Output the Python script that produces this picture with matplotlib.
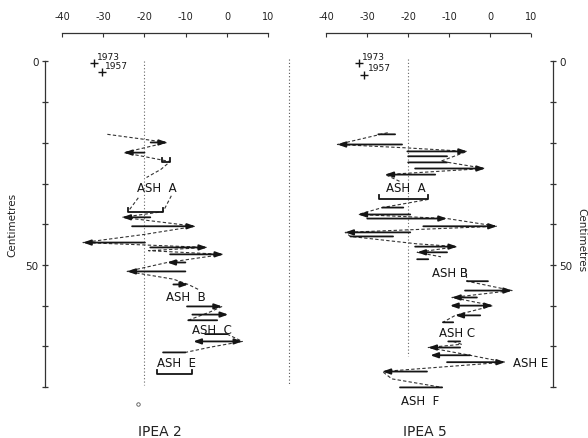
import numpy as np
import matplotlib.pyplot as plt

nan = np.nan

# ---- IPEA 2 : horizontal shifts (depth in cm, start value, end value, head type)
# head: 'r' arrow at end, 'b' both ends, 'n' plain line, 'k' bracket
L_depth = [19.9, 22.4, 24.6, 36.9, 38.3, 40.5, 44.5, 45.7, 47.4, 49.4,
           51.6, 54.8, 60.2, 62.2, 63.6, 67.0, 68.8, 71.5, 76.7]
L_from = [-18.5, -20.0, -15.7, -24.0, -18.6, -23.0, -19.9, -18.6, -13.8, -10.1,
          -10.1, -13.0, -9.7, -8.4, -9.4, -5.3, -8.2, -15.5, -17.0]
L_to = [-14.5, -25.0, -13.8, -15.5, -25.4, -7.7, -34.9, -4.8, -0.9, -14.5,
        -24.2, -9.4, -1.2, 0.3, -2.4, 0.0, 3.7, -10.1, -8.4]
L_head = ['r', 'r', 'k', 'k', 'r', 'r', 'r', 'r', 'r', 'r',
          'r', 'r', 'r', 'r', 'n', 'n', 'b', 'n', 'k']

# dashed connecting trace (NaN = break)
LZ_x = [-29, -14.5, -25, -13.8, -16, -19.5, nan, -21.5, -24, nan,
        -13.5, -15.5, -25.4, -7.7, -20, -34.9, -4.8, -19, -0.9, -14.5,
        -24.2, -13, -9.4, -7, nan, -1.2, -4, -9.4, nan, 0, 3.7, -4, -10.1]
LZ_d = [17.9, 19.9, 22.4, 24.6, 26.5, 28.5, nan, 33.5, 36.9, nan,
        33.0, 36.9, 38.3, 40.5, 42.5, 44.5, 45.7, 46.5, 47.4, 49.4,
        51.6, 53.5, 54.8, 56.0, nan, 60.2, 61.5, 63.6, nan, 67.0, 68.8, 70.2, 71.5]

L_ash = ['ASH  A', 'ASH  B', 'ASH  C', 'ASH  E']
L_ash_x = [-17.0, -10.0, -3.6, -12.3]
L_ash_d = [31.0, 57.7, 65.8, 74.0]

# ---- IPEA 5
R_depth = [17.9, 20.4, 22.1, 23.3, 24.8, 26.3, 27.8, 33.9, 35.9, 37.6,
           38.6, 40.5, 42.0, 43.0, 45.5, 46.9, 48.6, 54.0, 56.3, 58.0,
           60.0, 62.4, 64.1, 68.8, 70.3, 72.2, 73.9, 76.2, 80.1]
R_from = [-27.3, -21.5, -20.2, -20.0, -20.0, -18.3, -13.4, -27.1, -26.3, -19.5,
          -30.0, -16.3, -19.5, -34.1, -18.3, -10.5, -17.8, -5.6, -6.1, -3.2,
          -9.8, -2.4, -11.5, -10.2, -7.3, -4.9, -10.5, -15.4, -22.0]
R_to = [-23.2, -37.3, -5.6, -10.5, -10.5, -1.2, -25.6, -15.1, -21.2, -32.2,
        -10.5, 1.7, -35.4, -23.7, -8.0, -17.8, -15.1, -0.5, 5.4, -9.3,
        0.7, -8.5, -9.0, -7.3, -15.1, -14.6, 3.7, -26.3, -11.7]
R_head = ['n', 'r', 'r', 'n', 'n', 'r', 'r', 'k', 'n', 'r',
          'r', 'r', 'r', 'n', 'r', 'r', 'n', 'n', 'r', 'r',
          'b', 'r', 'n', 'n', 'r', 'r', 'r', 'r', 'n']

RZ_x = [-25, -37.3, -21, -5.6, -12, -1.2, -25.6, -22, nan,
        -15.1, -26.3, -32.2, -10.5, 1.7, -35.4, -34.1, -18, -8, -17.8, -12, nan,
        -6, -5.6, 5.4, -9.3, 0.7, -8.5, -11.5, nan,
        -9, -7, -15.1, -4.9, 3.7, -26.3, -24, -11.7]
RZ_d = [17.5, 20.4, 21.2, 22.1, 24.5, 26.3, 27.8, 29.5, nan,
        33.9, 35.9, 37.6, 38.6, 40.5, 42.0, 43.0, 44.8, 45.5, 46.9, 48.0, nan,
        51.0, 54.0, 56.3, 58.0, 60.0, 62.4, 64.1, nan,
        68.8, 69.5, 70.3, 72.2, 73.9, 76.2, 78.0, 80.1]

R_ash = ['ASH  A', 'ASH B', 'ASH C', 'ASH  F']
R_ash_x = [-20.7, -9.8, -8.0, -17.0]
R_ash_d = [31.0, 51.8, 66.6, 83.2]

# dated horizons
yr_labels = ['1973', '1957']
L_yr_x = [-32.2, -30.3]
L_yr_d = [0.4, 2.6]
R_yr_x = [-32.0, -30.7]
R_yr_d = [0.4, 3.3]

x_ticks = [-40, -30, -20, -10, 0, 10]
x_ticklabels = ['-40', '-30', '-20', '-10', '0', '10']
d_ticks = [0, 10, 20, 30, 40, 50, 60, 70, 80]
d_ticklabels = ['0', '', '', '', '', '50', '', '', '']

INK = '#151515'


def draw_shifts(ax, depth, start, end, head):
    for d, a, b, h in zip(depth, start, end, head):
        if h == 'k':
            # bracket: flat bar with short upturned ends
            ax.plot([a, a, b, b], [d - 1.0, d, d, d - 1.0], color=INK,
                    lw=1.3, clip_on=False)
            continue
        if h == 'r':
            style = '-|>,head_length=0.45,head_width=0.16'
        elif h == 'b':
            style = '<|-|>,head_length=0.45,head_width=0.16'
        else:
            style = '-'
        ax.annotate('', xy=(b, d), xytext=(a, d),
                    arrowprops=dict(arrowstyle=style, color=INK, lw=1.3,
                                    shrinkA=0, shrinkB=0),
                    annotation_clip=False)


def setup_panel(ax, xlim, side):
    ax.set_xlim(*xlim)
    ax.set_ylim(80, -7)
    ax.set_facecolor('none')
    for s in ['top', 'bottom', 'left', 'right']:
        ax.spines[s].set_visible(False)
    ax.spines['top'].set_visible(True)
    ax.spines['top'].set_bounds(-40, 10)
    ax.spines['top'].set_linestyle((0, (3, 1)))
    ax.spines['top'].set_linewidth(0.9)
    ax.spines['top'].set_color('#333333')
    ax.xaxis.tick_top()
    ax.set_xticks(x_ticks)
    ax.set_xticklabels(x_ticklabels, fontsize=7, color='#222222')
    ax.tick_params(axis='x', direction='in', length=3, width=0.8, pad=9,
                   color='#333333')

    ax.spines[side].set_visible(True)
    ax.spines[side].set_bounds(0, 80)
    ax.spines[side].set_linestyle((0, (3, 1)))
    ax.spines[side].set_linewidth(0.9)
    ax.spines[side].set_color('#333333')
    if side == 'right':
        ax.yaxis.tick_right()
    else:
        ax.yaxis.tick_left()
    ax.set_yticks(d_ticks)
    ax.set_yticklabels(d_ticklabels, fontsize=7.5, color='#222222')
    ax.tick_params(axis='y', direction='inout', length=5, width=0.9, pad=2,
                   color='#333333')


fig = plt.figure(figsize=(5.88, 4.39), dpi=100)
axL = fig.add_axes([45 / 588, 1 - 388 / 439, 244 / 588, 354 / 439])
axR = fig.add_axes([310 / 588, 1 - 388 / 439, 243 / 588, 354 / 439])

setup_panel(axL, (-44.1, 15.0), 'left')
setup_panel(axR, (-44.0, 15.4), 'right')

# reference line at -20 and the panel divider
axL.plot([-20, -20], [0, 79.5], ls=(0, (1, 2)), color='#666666', lw=0.8)
axR.plot([-20, -20], [-0.5, 72.5], ls=(0, (1, 2)), color='#666666', lw=0.8)
axL.plot([15, 15], [-0.5, 79.5], ls=(0, (1, 2)), color='#555555', lw=0.8,
         clip_on=False)

# connecting traces
axL.plot(LZ_x, LZ_d, ls=(0, (3, 2)), color='#333333', lw=0.8, clip_on=False)
axR.plot(RZ_x, RZ_d, ls=(0, (3, 2)), color='#333333', lw=0.8, clip_on=False)

draw_shifts(axL, L_depth, L_from, L_to, L_head)
draw_shifts(axR, R_depth, R_from, R_to, R_head)

for ax, labs, xs, ds in [(axL, L_ash, L_ash_x, L_ash_d),
                         (axR, R_ash, R_ash_x, R_ash_d)]:
    for t, x, d in zip(labs, xs, ds):
        ax.text(x, d, t, fontsize=8.5, color=INK, ha='center', va='center',
                clip_on=False)
axR.text(5.6, 73.9, 'ASH E', fontsize=8.5, color=INK, ha='left', va='center')

# dated horizons
for ax, xs, ds in [(axL, L_yr_x, L_yr_d), (axR, R_yr_x, R_yr_d)]:
    for t, x, d in zip(yr_labels, xs, ds):
        ax.plot(x, d, marker='+', ms=6, mew=1.0, color=INK, clip_on=False)
        ax.text(x + 0.8, d - 0.6, t, fontsize=6.5, color=INK,
                ha='left', va='bottom', clip_on=False)

axL.plot(-21.6, 84.3, marker='o', ms=2.5, mfc='none', mec='#555555',
         mew=0.6, clip_on=False)

fig.text(12 / 588, 1 - 225 / 439, 'Centimetres', rotation=90, fontsize=7.5,
         ha='center', va='center', color='#222222')
fig.text(581 / 588, 1 - 240 / 439, 'Centimetres', rotation=270, fontsize=7.5,
         ha='center', va='center', color='#222222')

fig.text(160 / 588, 1 - 432 / 439, 'IPEA 2', fontsize=10, ha='center',
         va='center', color='#222222')
fig.text(425 / 588, 1 - 432 / 439, 'IPEA 5', fontsize=10, ha='center',
         va='center', color='#222222')

fig.savefig('out.png', dpi=100)
